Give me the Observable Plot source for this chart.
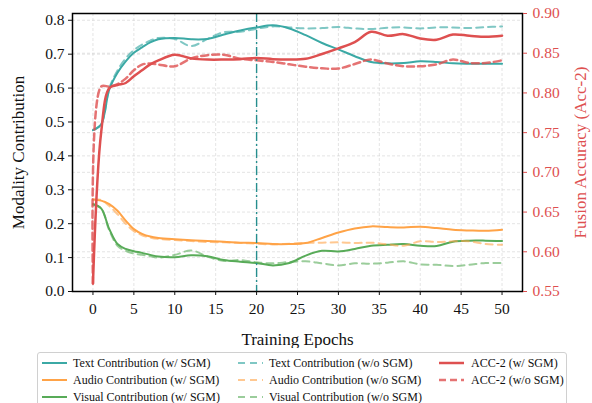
<!DOCTYPE html>
<html><head><meta charset="utf-8">
<script src="https://cdn.jsdelivr.net/npm/d3@7"></script>
<script src="https://cdn.jsdelivr.net/npm/@observablehq/plot@0.6"></script>
<style>
body{margin:0;background:#fff;font-family:"Liberation Serif",serif;}
#wrap{position:relative;width:592px;height:403px;overflow:hidden;background:#fff;}
#wrap svg text{font-family:"Liberation Serif",serif;}
#legend{position:absolute;left:37px;top:352px;width:530px;height:62px;border:1px solid #d0d0d0;border-radius:3px;box-sizing:border-box;background:#fff;}
.item{position:absolute;font-size:12px;line-height:14px;white-space:nowrap;color:#111;font-family:"Liberation Serif",serif;}
.item svg{position:absolute;top:0;}
</style></head><body><div id="wrap"></div>
<script>
// ---- data ----
const epochs     = [0,1,2,3,4,5,6,7,8,10,12,14,16,18,20,22,24,26,28,30,32,34,36,38,40,42,44,46,48,50];
const textW      = [0.476,0.493,0.596,0.645,0.679,0.704,0.720,0.735,0.744,0.748,0.744,0.745,0.758,0.770,0.779,0.785,0.776,0.756,0.733,0.714,0.694,0.677,0.673,0.674,0.679,0.677,0.673,0.672,0.672,0.672];
const audioW     = [0.271,0.268,0.258,0.238,0.209,0.184,0.170,0.162,0.158,0.154,0.151,0.149,0.147,0.144,0.143,0.140,0.140,0.143,0.158,0.174,0.186,0.192,0.190,0.189,0.191,0.187,0.182,0.180,0.179,0.182];
const visualW    = [0.258,0.245,0.184,0.140,0.1255,0.119,0.114,0.108,0.103,0.101,0.107,0.104,0.093,0.088,0.084,0.077,0.084,0.106,0.120,0.118,0.1255,0.135,0.138,0.140,0.135,0.134,0.147,0.150,0.150,0.149];
const textWo     = [0.476,0.493,0.600,0.652,0.688,0.712,0.728,0.740,0.748,0.745,0.724,0.745,0.765,0.766,0.775,0.782,0.779,0.776,0.777,0.780,0.776,0.774,0.778,0.779,0.776,0.779,0.779,0.777,0.780,0.782];
const audioWo    = [0.272,0.270,0.252,0.228,0.200,0.178,0.166,0.159,0.155,0.152,0.149,0.146,0.145,0.143,0.141,0.139,0.141,0.143,0.144,0.145,0.143,0.144,0.139,0.135,0.148,0.146,0.148,0.148,0.140,0.138];
const visualWo   = [0.255,0.245,0.180,0.135,0.120,0.112,0.108,0.104,0.100,0.108,0.121,0.103,0.090,0.093,0.086,0.083,0.087,0.089,0.083,0.077,0.083,0.082,0.085,0.089,0.080,0.079,0.075,0.079,0.084,0.084];
const accW       = [0.560,0.750,0.806,0.810,0.8125,0.821,0.8285,0.836,0.841,0.848,0.8435,0.842,0.842,0.8425,0.844,0.8425,0.842,0.843,0.849,0.856,0.864,0.877,0.872,0.874,0.8685,0.867,0.8735,0.872,0.8706,0.872];
const accWo      = [0.560,0.808,0.808,0.811,0.818,0.8285,0.8357,0.837,0.8357,0.8336,0.8433,0.8475,0.848,0.843,0.841,0.839,0.836,0.833,0.831,0.8307,0.8364,0.842,0.837,0.8336,0.8336,0.836,0.842,0.8377,0.8377,0.841];

const xTicks     = [0,5,10,15,20,25,30,35,40,45,50];
const leftTicks  = [0,0.1,0.2,0.3,0.4,0.5,0.6,0.7,0.8];
const rightTicks = [0.55,0.60,0.65,0.70,0.75,0.80,0.85,0.90];
const markerEpoch = [20];

const seriesNames = ["Text Contribution (w/ SGM)","Audio Contribution (w/ SGM)","Visual Contribution (w/ SGM)",
  "Text Contribution (w/o SGM)","Audio Contribution (w/o SGM)","Visual Contribution (w/o SGM)",
  "ACC-2 (w/ SGM)","ACC-2 (w/o SGM)"];
const seriesValues = [textW,audioW,visualW,textWo,audioWo,visualWo,accW,accWo];

// ---- styling ----
const FONT = "Liberation Serif";
const TEAL="#3ba9a5", ORANGE="#ffa347", GREEN="#58ab58", RED="#de5050", VLINE="#268e8e";
const styles = [
  {color:TEAL,dash:null,op:1,w:2,right:false},
  {color:ORANGE,dash:null,op:1,w:2,right:false},
  {color:GREEN,dash:null,op:1,w:2,right:false},
  {color:TEAL,dash:"7,5",op:0.65,w:2,right:false},
  {color:ORANGE,dash:"7,5",op:0.6,w:2,right:false},
  {color:GREEN,dash:"7,5",op:0.6,w:2,right:false},
  {color:RED,dash:null,op:1,w:2.5,right:true},
  {color:RED,dash:"7,4",op:0.8,w:2.5,right:true}
];

const LEFT_TOP=0.82, ACC_LO=0.55, ACC_HI=0.90;
const toLeft = v => (v-ACC_LO)/(ACC_HI-ACC_LO)*LEFT_TOP;
const fromLeft = v => ACC_LO + v/LEFT_TOP*(ACC_HI-ACC_LO);

const lineMarks = seriesValues.map((vals,i)=>{
  const st = styles[i];
  const rows = epochs.map((e,j)=>({epoch:e, v: st.right ? toLeft(vals[j]) : vals[j]}));
  return Plot.line(rows,{x:"epoch",y:"v",stroke:st.color,strokeWidth:st.w,strokeOpacity:st.op,
    strokeDasharray:st.dash||undefined,curve:"catmull-rom"});
});

const gridStyle = {stroke:"#cfcfcf",strokeOpacity:0.7,strokeDasharray:"3,2",strokeWidth:0.8};

const chart = Plot.plot({
  width:592, height:348,
  marginLeft:72, marginRight:70, marginTop:13, marginBottom:57,
  style:{fontFamily:FONT, fontSize:"15px", background:"#fff", color:"#111"},
  x:{domain:[-2.5,52.5]},
  y:{domain:[0,LEFT_TOP]},
  marks:[
    Plot.gridX(xTicks, gridStyle),
    Plot.gridY(leftTicks, gridStyle),
    Plot.gridY(rightTicks.map(toLeft), gridStyle),
    ...lineMarks,
    Plot.ruleX(markerEpoch,{stroke:VLINE,strokeWidth:1.4,strokeDasharray:"9,3,2,3"}),
    Plot.frame({stroke:"#000",strokeWidth:1.5}),
    Plot.axisX(xTicks,{anchor:"bottom",tickSize:4,tickPadding:7,label:null,fontSize:15.5,fontFamily:FONT}),
    Plot.axisY(leftTicks,{anchor:"left",tickSize:4,tickPadding:4,label:null,tickFormat:d=>d.toFixed(1),fontSize:15.5,fontFamily:FONT}),
    Plot.axisY(rightTicks.map(toLeft),{anchor:"right",tickSize:4,tickPadding:6,label:null,color:RED,
      tickFormat:d=>fromLeft(d).toFixed(2),fontSize:15.5,fontFamily:FONT}),
    Plot.text(["Modality Contribution"],{text:d=>d,frameAnchor:"left",textAnchor:"middle",dx:-54,rotate:-90,fontSize:17,fill:"#111",fontFamily:FONT}),
    Plot.text(["Fusion Accuracy (Acc-2)"],{text:d=>d,frameAnchor:"right",textAnchor:"middle",dx:58,rotate:-90,fontSize:17,fill:RED,fontFamily:FONT}),
    Plot.text(["Training Epochs"],{text:d=>d,frameAnchor:"bottom",dy:53,fontSize:17,fill:"#111",fontFamily:FONT})
  ]
});

const wrap = document.getElementById("wrap");
wrap.appendChild(chart);

// ---- legend ----
const legend = document.createElement("div");
legend.id = "legend";
const colX = [[4,35],[200,231],[401,433]];
const rowY = [3,20,37];
const order = [[0,0,0],[1,0,1],[2,0,2],[3,1,0],[4,1,1],[5,1,2],[6,2,0],[7,2,1]];
for (const [si,c,r] of order){
  const st = styles[si];
  const it = document.createElement("div");
  it.className="item";
  it.style.left = colX[c][0]+"px";
  it.style.top = rowY[r]+"px";
  const sw = 25;
  const svg = `<svg width="${sw}" height="14" style="left:0"><line x1="0" x2="${sw}" y1="7" y2="7" stroke="${st.color}" stroke-width="${st.w}" stroke-opacity="${st.op}" ${st.dash?`stroke-dasharray="${st.dash}"`:""}/></svg>`;
  it.innerHTML = svg + `<span style="position:absolute;left:${colX[c][1]-colX[c][0]}px;top:0">${seriesNames[si]}</span>`;
  legend.appendChild(it);
}
wrap.appendChild(legend);
</script>
</body></html>
